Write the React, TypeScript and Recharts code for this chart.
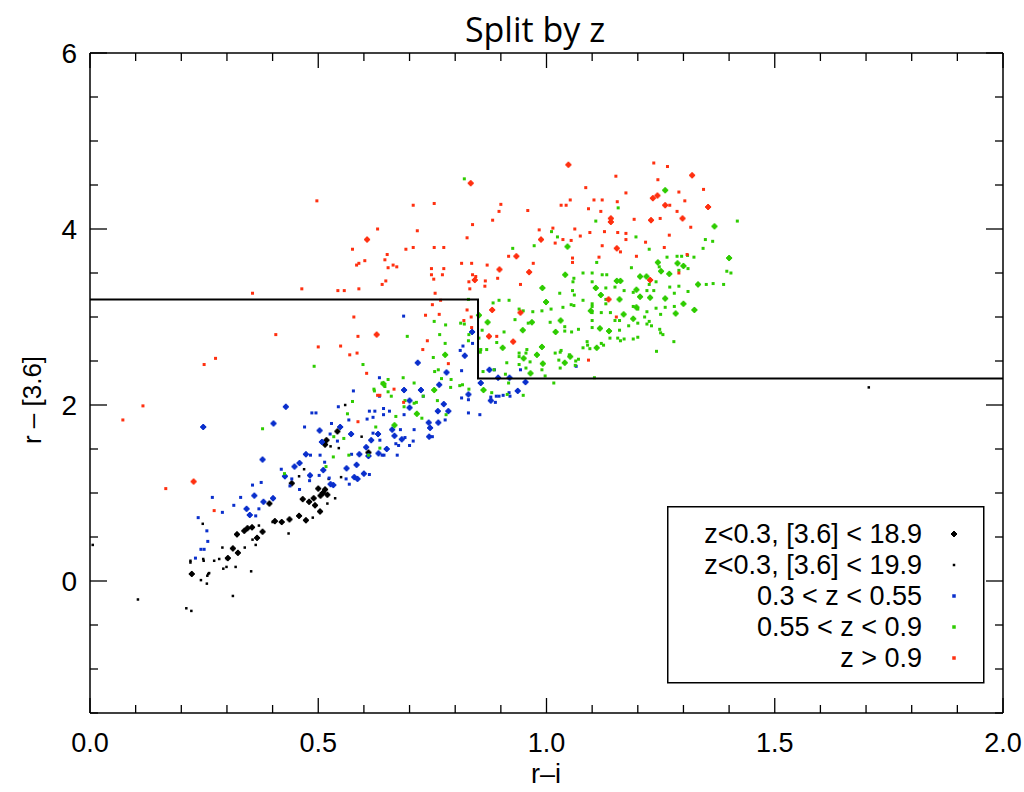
import { ScatterChart, Scatter, XAxis, YAxis } from "recharts"

type Pt = [number, number]

// z < 0.3, [3.6] < 18.9
const blackBright: Pt[] = [
  [0.542, 1.7], [0.518, 1.6], [0.515, 1.55], [0.61, 1.46], [0.442, 1.11], [0.5, 1.05], [0.51, 1.0],
  [0.52, 0.98], [0.505, 0.97], [0.49, 0.94], [0.466, 0.93], [0.493, 0.86], [0.504, 0.79], [0.458, 0.74],
  [0.473, 0.69], [0.42, 0.67], [0.405, 0.68], [0.393, 0.88], [0.378, 0.56], [0.366, 0.49], [0.355, 0.61],
  [0.345, 0.6], [0.338, 0.57], [0.322, 0.53], [0.313, 0.37], [0.324, 0.32], [0.302, 0.26], [0.223, 0.08],
  [0.48, 0.9], [0.437, 0.7], [0.515, 1.04],
]

// z < 0.3, [3.6] < 19.9
const blackFaint: Pt[] = [
  [0.559, 2.0], [0.527, 1.53], [0.545, 1.51], [0.595, 1.64], [0.469, 1.27], [0.458, 1.19], [0.523, 1.16],
  [0.55, 1.18], [0.52, 0.88], [0.537, 0.94], [0.488, 0.72], [0.4, 0.67], [0.435, 0.54], [0.37, 0.63],
  [0.356, 0.47], [0.363, 0.41], [0.339, 0.38], [0.29, 0.38], [0.283, 0.25], [0.247, 0.65], [0.249, 0.23],
  [0.22, 0.21], [0.22, 0.23], [0.248, 0.25], [0.272, 0.23], [0.3, 0.25], [0.319, 0.16], [0.299, 0.16],
  [0.292, 0.14], [0.261, 0.09], [0.257, 0.06], [0.243, 0.01], [0.256, -0.03], [0.353, 0.11], [0.259, 0.08],
  [0.313, -0.17], [0.105, -0.21], [0.211, -0.31], [0.222, -0.34], [0.006, 0.41], [1.706, 2.2],
]

// 0.3 < z < 0.55
const blueBright: Pt[] = [
  [0.248, 1.75], [0.429, 1.98], [0.402, 1.79], [0.378, 1.38], [0.503, 1.71], [0.508, 1.58], [0.548, 1.75],
  [0.572, 1.67], [0.473, 1.44], [0.448, 1.3], [0.459, 1.34], [0.427, 1.19], [0.482, 1.2], [0.511, 1.26],
  [0.533, 1.09], [0.527, 1.1], [0.36, 0.97], [0.343, 0.82], [0.35, 0.75], [0.38, 0.9], [0.401, 0.94],
  [0.562, 1.28], [0.584, 1.32], [0.59, 1.44], [0.579, 1.18], [0.586, 1.16], [0.6, 1.22], [0.616, 1.6],
  [0.605, 1.52], [0.61, 1.42], [0.631, 1.67], [0.632, 1.45], [0.65, 1.5], [0.837, 2.83], [0.821, 2.56],
  [0.718, 2.48], [0.781, 2.37], [0.765, 2.23], [0.688, 2.17], [0.725, 2.17], [0.829, 2.12], [0.875, 2.4],
  [0.894, 2.31], [0.919, 2.31], [0.954, 2.26], [0.856, 2.25], [0.937, 2.16], [0.878, 2.05], [0.7, 2.05],
  [0.7, 1.97], [0.762, 1.93], [0.775, 2.01], [0.785, 1.93], [0.763, 1.8], [0.742, 1.8], [0.745, 1.74],
  [0.662, 1.72], [0.667, 1.65], [0.683, 1.61], [0.743, 1.64],
]

const blueFaint: Pt[] = [
  [0.486, 1.91], [0.495, 1.91], [0.577, 2.16], [0.47, 1.75], [0.526, 1.67], [0.529, 1.79], [0.542, 1.59],
  [0.483, 1.43], [0.504, 1.43], [0.438, 1.08], [0.442, 1.16], [0.419, 1.27], [0.502, 1.2], [0.514, 1.35],
  [0.524, 1.17], [0.481, 1.14], [0.459, 1.04], [0.356, 1.09], [0.375, 1.12], [0.33, 0.95], [0.315, 0.86],
  [0.37, 0.82], [0.363, 0.74], [0.29, 0.78], [0.268, 0.95], [0.237, 0.72], [0.256, 0.57], [0.258, 0.45],
  [0.25, 0.36], [0.243, 0.36], [0.231, 0.26], [0.573, 1.44], [0.561, 1.16], [0.568, 1.1], [0.612, 1.21],
  [0.635, 1.6], [0.644, 1.43], [0.62, 1.86], [0.612, 1.93], [0.624, 1.93], [0.643, 1.89], [0.607, 1.84],
  [0.567, 1.83], [0.544, 1.98], [0.634, 2.31], [0.634, 2.1], [0.687, 3.01], [0.838, 2.7], [0.817, 2.67],
  [0.811, 2.62], [0.814, 2.39], [0.886, 2.4], [0.943, 2.4], [0.89, 2.1], [0.905, 2.11], [0.92, 2.1],
  [0.878, 2.09], [1.065, 2.44], [0.814, 2.08], [0.829, 2.06], [0.888, 2.03], [0.896, 2.1], [0.918, 2.14],
  [0.73, 2.1], [0.688, 1.89], [0.643, 1.96], [0.656, 1.93], [0.829, 1.91], [0.854, 1.89], [0.778, 1.83],
  [0.71, 1.72], [0.68, 1.72], [0.69, 1.63], [0.708, 1.59], [0.75, 1.64], [0.67, 1.56], [0.676, 1.54],
  [0.7, 1.54], [0.64, 1.43], [0.673, 1.43], [0.62, 1.68],
]

// 0.55 < z < 0.9
const greenBright: Pt[] = [
  [1.26, 4.44], [1.368, 4.03], [1.046, 3.8], [1.4, 3.67], [1.244, 3.62], [1.287, 3.61], [1.3, 3.58],
  [1.269, 3.49], [1.332, 3.37], [1.26, 3.21], [1.205, 3.46], [1.219, 3.46], [1.205, 3.23], [1.162, 3.41],
  [1.154, 3.41], [1.041, 3.48], [1.119, 3.25], [1.108, 3.33], [1.097, 3.07], [1.169, 3.03], [1.197, 3.11],
  [1.197, 3.31], [1.227, 3.22], [1.19, 2.98], [1.283, 3.04], [1.3, 3.15], [1.324, 3.08], [1.251, 3.52],
  [1.117, 2.87], [1.137, 2.84], [1.11, 2.65], [1.16, 3.2], [0.999, 3.17], [0.991, 3.33], [1.031, 2.96],
  [0.968, 2.94], [0.948, 2.85], [1.02, 2.83], [1.052, 2.55], [1.04, 2.48], [0.99, 2.66], [0.95, 2.53],
  [0.979, 2.57], [0.992, 2.47], [0.965, 2.36], [0.904, 2.65], [0.871, 2.94], [0.852, 3.02], [0.778, 2.57],
  [0.754, 2.17], [0.862, 2.17], [0.716, 1.9], [0.667, 1.77], [0.643, 2.24],
]

const greenFaint: Pt[] = [
  [0.82, 4.57], [1.157, 4.24], [1.418, 4.09], [1.108, 4.09], [1.011, 3.97], [1.024, 3.91], [0.973, 3.81],
  [0.926, 3.78], [1.196, 3.91], [1.348, 3.88], [1.364, 3.86], [1.343, 3.78], [1.225, 3.77], [1.264, 3.68],
  [1.286, 3.69], [1.296, 3.69], [1.309, 3.7], [1.323, 3.68], [1.247, 3.57], [1.31, 3.55], [1.29, 3.53],
  [1.395, 3.52], [1.404, 3.5], [1.388, 3.37], [1.35, 3.37], [1.365, 3.38], [1.27, 3.34], [1.29, 3.35],
  [1.28, 3.27], [1.31, 3.29], [1.186, 3.56], [1.24, 3.4], [1.225, 3.37], [1.22, 3.3], [1.235, 3.3],
  [1.19, 3.28], [1.17, 3.3], [1.15, 3.34], [1.13, 3.33], [1.122, 3.48], [1.132, 3.48], [1.1, 3.5],
  [1.08, 3.5], [1.058, 3.4], [1.057, 3.3], [1.1, 3.4], [1.11, 3.62], [1.06, 3.44], [1.13, 3.2],
  [1.13, 3.15], [1.1, 3.15], [1.08, 3.19], [1.06, 3.13], [1.1, 3.12], [1.1, 3.05], [1.12, 3.05],
  [1.14, 3.05], [1.15, 2.96], [1.16, 2.96], [1.1, 2.96], [1.19, 3.12], [1.2, 3.09], [1.26, 3.11],
  [1.28, 3.12], [1.24, 3.1], [1.25, 3.03], [1.22, 3.06], [1.215, 3.0], [1.2, 2.93], [1.225, 2.95],
  [1.23, 2.9], [1.22, 2.92], [1.18, 2.9], [1.248, 2.86], [1.25, 2.82], [1.255, 2.8], [1.279, 2.72],
  [1.241, 2.61], [1.07, 2.86], [1.1, 2.88], [1.04, 2.84], [1.04, 2.89], [1.16, 2.85], [1.156, 2.76],
  [1.162, 2.73], [1.17, 2.75], [1.139, 2.76], [1.2, 2.77], [1.19, 2.75], [1.12, 2.7], [1.125, 2.68],
  [1.09, 2.68], [1.08, 2.65], [1.095, 2.64], [1.089, 2.72], [1.105, 2.31], [1.061, 3.25], [1.054, 3.14],
  [1.029, 3.27], [1.036, 3.11], [1.01, 3.09], [0.99, 3.07], [0.97, 3.06], [1.008, 2.94], [0.94, 3.09],
  [0.949, 3.07], [0.96, 2.93], [1.055, 2.83], [1.05, 2.57], [1.03, 2.6], [1.032, 2.62], [1.019, 2.59],
  [1.027, 2.51], [1.07, 2.52], [1.064, 2.5], [1.063, 2.45], [1.03, 2.42], [0.957, 2.63], [0.955, 2.59],
  [0.94, 2.59], [0.94, 2.55], [0.964, 2.49], [0.955, 2.42], [0.99, 2.4], [0.94, 2.46], [0.997, 2.33],
  [0.907, 2.83], [0.918, 3.19], [0.896, 3.19], [0.883, 3.16], [0.931, 2.97], [0.859, 2.85], [0.852, 2.76],
  [0.891, 2.71], [0.856, 2.63], [0.869, 2.63], [0.885, 2.4], [0.861, 2.38], [0.913, 2.48], [0.91, 2.35],
  [1.016, 2.25], [0.829, 3.2], [0.695, 2.78], [0.779, 2.91], [0.754, 2.95], [0.766, 2.8], [0.778, 2.7],
  [0.752, 2.54], [0.812, 2.93], [0.82, 2.92], [0.829, 2.73], [0.83, 2.8], [0.763, 2.4], [0.755, 2.38],
  [0.791, 2.29], [0.77, 2.3], [0.686, 2.31], [0.81, 2.22], [0.83, 2.18], [0.855, 2.6], [0.64, 2.25],
  [0.71, 2.25], [0.816, 2.23], [0.79, 2.2], [0.88, 2.14], [0.917, 2.25], [0.949, 2.11], [0.914, 2.12],
  [0.69, 2.05], [0.71, 2.02], [0.688, 1.98], [0.715, 2.03], [0.727, 1.85], [0.761, 2.05], [0.73, 2.1],
  [0.66, 2.1], [0.67, 1.87], [0.78, 1.89], [0.378, 1.73], [0.534, 1.64], [0.556, 1.62], [0.564, 1.9],
  [0.575, 2.04], [0.623, 2.16], [0.626, 1.75], [0.567, 1.43], [0.533, 1.41], [0.517, 1.3], [0.426, 1.22],
  [0.635, 1.51], [0.61, 1.43], [0.653, 2.15], [0.491, 2.44], [0.598, 2.46], [0.653, 2.29], [0.646, 2.21],
  [0.622, 2.18],
]

// z > 0.9
const redBright: Pt[] = [
  [0.607, 3.88], [0.628, 2.8], [0.227, 1.13], [1.048, 4.73], [1.319, 4.61], [0.834, 4.52], [1.233, 4.35],
  [1.243, 4.38], [1.26, 4.27], [1.354, 4.25], [1.141, 4.08], [1.141, 4.12], [1.154, 3.78], [1.229, 4.1],
  [1.298, 4.12], [1.227, 3.42], [1.136, 3.2], [0.943, 3.05], [0.881, 3.08], [0.874, 2.78], [0.927, 2.72],
  [0.843, 3.42], [0.897, 3.54], [0.934, 3.69], [0.962, 3.51], [0.988, 3.88],
]

const redFaint: Pt[] = [
  [0.497, 4.32], [0.63, 4.0], [0.575, 3.77], [0.651, 3.71], [0.646, 3.65], [0.602, 3.64], [0.584, 3.59],
  [0.589, 3.61], [0.653, 3.56], [0.648, 3.41], [0.64, 3.37], [0.589, 3.32], [0.557, 3.3], [0.543, 3.3],
  [0.464, 3.32], [0.356, 3.27], [0.578, 3.0], [0.407, 2.8], [0.587, 2.78], [0.5, 2.66], [0.549, 2.67],
  [0.585, 2.59], [0.569, 2.57], [0.275, 2.53], [0.25, 2.46], [0.606, 2.36], [0.635, 2.11], [0.072, 1.83],
  [0.116, 1.99], [0.166, 1.05], [0.272, 0.8], [0.587, 1.81], [1.235, 4.75], [1.265, 4.71], [1.152, 4.6],
  [1.244, 4.56], [1.086, 4.47], [1.174, 4.41], [1.344, 4.45], [1.29, 4.42], [1.104, 4.33], [1.122, 4.33],
  [1.155, 4.31], [1.303, 4.32], [1.052, 4.33], [1.032, 4.27], [1.043, 4.27], [1.092, 4.23], [1.119, 4.2],
  [1.27, 4.27], [1.286, 4.2], [0.959, 4.21], [0.708, 4.27], [0.754, 4.29], [0.9, 4.28], [0.896, 4.2],
  [0.882, 4.1], [0.838, 4.05], [0.826, 3.9], [0.717, 3.98], [0.692, 3.77], [0.708, 3.79], [0.754, 3.79],
  [0.775, 3.79], [0.664, 3.59], [0.672, 3.57], [0.748, 3.55], [0.775, 3.55], [0.748, 3.48], [0.772, 3.48],
  [0.753, 3.43], [0.814, 3.61], [0.836, 3.61], [0.838, 3.48], [0.845, 3.46], [0.83, 3.4], [0.832, 3.32],
  [0.865, 3.35], [0.866, 3.41], [0.87, 3.59], [0.893, 3.44], [0.917, 3.69], [0.971, 3.61], [0.943, 3.37],
  [0.984, 3.99], [1.014, 4.01], [1.019, 3.84], [1.036, 3.88], [1.054, 3.87], [1.062, 4.0], [1.074, 3.92],
  [1.095, 3.96], [1.057, 3.67], [1.057, 3.62], [1.115, 3.68], [1.122, 3.81], [1.127, 3.97], [1.156, 3.96],
  [1.162, 3.74], [1.174, 3.95], [1.174, 3.88], [1.192, 4.11], [1.197, 3.69], [1.217, 3.85], [1.249, 4.12],
  [1.316, 4.02], [1.269, 3.93], [1.258, 3.79], [1.29, 3.5], [1.308, 3.71], [1.153, 3.0], [0.891, 2.78],
  [1.092, 2.51], [0.826, 3.08], [0.835, 3.0], [0.836, 2.88], [0.819, 2.96], [0.735, 3.02], [0.765, 3.03],
  [0.75, 3.14], [0.768, 3.19], [0.756, 3.27], [0.739, 2.73], [0.729, 2.63], [0.785, 2.47], [0.666, 2.18],
  [0.687, 2.03], [0.63, 2.11],
]

// colour-cut boundary
const cutX = [0, 0.85, 0.85, 2.0]
const cutY = [3.2, 3.2, 2.3, 2.3]

const xTicks = [0, 0.1, 0.2, 0.3, 0.4, 0.5, 0.6, 0.7, 0.8, 0.9, 1.0, 1.1, 1.2, 1.3, 1.4, 1.5, 1.6, 1.7, 1.8, 1.9, 2.0]
const yTicks = [-1.5, -1, -0.5, 0, 0.5, 1, 1.5, 2, 2.5, 3, 3.5, 4, 4.5, 5, 5.5, 6]

const legendLabels = ["z<0.3, [3.6] < 18.9", "z<0.3, [3.6] < 19.9", "0.3 < z < 0.55", "0.55 < z < 0.9", "z > 0.9"]

const BLACK = "#000000"
const BLUE = "#0a2fcc"
const GREEN = "#2ecc00"
const RED = "#ff3010"
const TITLE_FONT = "'Open Sans', 'Noto Sans', sans-serif"
const FONT = "'Liberation Sans', Arial, sans-serif"

// plot frame in page pixels (from the chart margins below)
const PLOT_LEFT = 90
const PLOT_RIGHT = 1003
const PLOT_TOP = 53
const PLOT_BOTTOM = 713

const toData = (pts: Pt[]) => pts.map(([x, y]) => ({ x, y }))
const cutData = cutX.map((x, i) => ({ x, y: cutY[i] }))

const isMult = (v: number, step: number) => Math.abs(v / step - Math.round(v / step)) < 1e-6

const dot = (color: string, s = 3) => (p: any) => (
  <rect x={p.cx - s / 2} y={p.cy - s / 2} width={s} height={s} fill={color} />
)

const plus = (color: string) => (p: any) => (
  <g fill={color}>
    <rect x={p.cx - 3} y={p.cy - 1} width={6} height={2} />
    <rect x={p.cx - 1} y={p.cy - 3} width={2} height={6} />
    <rect x={p.cx - 2} y={p.cy - 2} width={4} height={4} />
  </g>
)

const BottomTick = (props: any) => {
  const { x, payload } = props
  const v = payload.value as number
  const major = isMult(v, 0.5)
  const y = PLOT_BOTTOM
  return (
    <g>
      <line x1={x} x2={x} y1={y} y2={y - (major ? 15 : 8)} stroke="#000" strokeWidth={1.3} />
      {major && (
        <text x={x} y={y + 39} textAnchor="middle" fontSize={27} fontFamily={FONT} fill="#000">
          {v.toFixed(1)}
        </text>
      )}
    </g>
  )
}

const TopTick = (props: any) => {
  const { x, payload } = props
  const major = isMult(payload.value, 0.5)
  return <line x1={x} x2={x} y1={PLOT_TOP} y2={PLOT_TOP + (major ? 15 : 8)} stroke="#000" strokeWidth={1.3} />
}

const LeftTick = (props: any) => {
  const { y, payload } = props
  const v = payload.value as number
  const major = isMult(v, 2)
  const x = PLOT_LEFT
  return (
    <g>
      <line x1={x} x2={x + (major ? 17 : 8)} y1={y} y2={y} stroke="#000" strokeWidth={1.3} />
      {major && (
        <text x={x - 13} y={y + 10} textAnchor="end" fontSize={28} fontFamily={FONT} fill="#000">
          {v}
        </text>
      )}
    </g>
  )
}

const RightTick = (props: any) => {
  const { y, payload } = props
  const major = isMult(payload.value, 2)
  return <line x1={PLOT_RIGHT} x2={PLOT_RIGHT - (major ? 17 : 8)} y1={y} y2={y} stroke="#000" strokeWidth={1.3} />
}

const legendShapes = [plus(BLACK), dot(BLACK, 2.5), dot(BLUE, 3.5), dot(GREEN, 3.5), dot(RED, 3.5)]

function Legend() {
  return (
    <svg
      width={318}
      height={178}
      style={{ position: "absolute", left: 667, top: 506, overflow: "visible" }}
    >
      <rect x={0.75} y={0.75} width={316} height={176} fill="#fff" stroke="#000" strokeWidth={1.5} />
      {legendLabels.map((label, i) => (
        <g key={label}>
          <text x={255} y={37 + i * 31} textAnchor="end" fontSize={27} fontFamily={FONT} fill="#000">
            {label}
          </text>
          {legendShapes[i]({ cx: 287, cy: 28 + i * 31 })}
        </g>
      ))}
    </svg>
  )
}

export default function App() {
  const axisProps = { type: "number" as const, allowDataOverflow: true, tickSize: 0, tickMargin: 0 }
  const frame = { stroke: "#000", strokeWidth: 1.5 }
  return (
    <div style={{ position: "absolute", left: 0, top: 0, width: 1024, height: 792, background: "#fff" }}>
      <div
        style={{
          position: "absolute",
          left: 385,
          width: 300,
          top: 6,
          textAlign: "center",
          fontSize: 34,
          fontFamily: TITLE_FONT,
        }}
      >
        Split by z
      </div>
      <ScatterChart width={1024} height={792} margin={{ top: 52, right: 20, bottom: 39, left: 30 }}>
        <XAxis
          {...axisProps}
          dataKey="x"
          domain={[0, 2]}
          ticks={xTicks}
          interval={0}
          height={40}
          tick={<BottomTick />}
          tickLine={false}
          axisLine={frame}
        />
        <XAxis
          {...axisProps}
          xAxisId="top"
          orientation="top"
          dataKey="x"
          domain={[0, 2]}
          ticks={xTicks}
          interval={0}
          height={1}
          tick={<TopTick />}
          tickLine={false}
          axisLine={frame}
        />
        <YAxis
          {...axisProps}
          dataKey="y"
          domain={[-1.5, 6]}
          ticks={yTicks}
          interval={0}
          width={60}
          tick={<LeftTick />}
          tickLine={false}
          axisLine={frame}
        />
        <YAxis
          {...axisProps}
          yAxisId="right"
          orientation="right"
          dataKey="y"
          domain={[-1.5, 6]}
          ticks={yTicks}
          interval={0}
          width={1}
          tick={<RightTick />}
          tickLine={false}
          axisLine={frame}
        />
        <Scatter data={toData(blackFaint)} shape={dot(BLACK, 2.5)} isAnimationActive={false} />
        <Scatter data={toData(blackBright)} shape={plus(BLACK)} isAnimationActive={false} />
        <Scatter data={toData(blueFaint)} shape={dot(BLUE)} isAnimationActive={false} />
        <Scatter data={toData(blueBright)} shape={plus(BLUE)} isAnimationActive={false} />
        <Scatter data={toData(greenFaint)} shape={dot(GREEN)} isAnimationActive={false} />
        <Scatter data={toData(greenBright)} shape={plus(GREEN)} isAnimationActive={false} />
        <Scatter data={toData(redFaint)} shape={dot(RED)} isAnimationActive={false} />
        <Scatter data={toData(redBright)} shape={plus(RED)} isAnimationActive={false} />
        <Scatter
          data={cutData}
          line={{ stroke: "#000", strokeWidth: 2 }}
          shape={() => <g />}
          isAnimationActive={false}
        />
        {/* invisible series so the mirrored top/right axes are in use */}
        <Scatter
          data={cutData}
          xAxisId="top"
          yAxisId="right"
          shape={() => <g />}
          isAnimationActive={false}
        />
      </ScatterChart>
      <div
        style={{
          position: "absolute",
          left: 446,
          width: 200,
          top: 761,
          textAlign: "center",
          fontSize: 27,
          lineHeight: "27px",
          fontFamily: FONT,
        }}
      >
        r–i
      </div>
      <div
        style={{
          position: "absolute",
          left: 32,
          top: 400,
          width: 200,
          marginLeft: -100,
          marginTop: -16,
          textAlign: "center",
          fontSize: 26,
          lineHeight: "32px",
          fontFamily: FONT,
          transform: "rotate(-90deg)",
        }}
      >
        r – [3.6]
      </div>
      <Legend />
    </div>
  )
}
